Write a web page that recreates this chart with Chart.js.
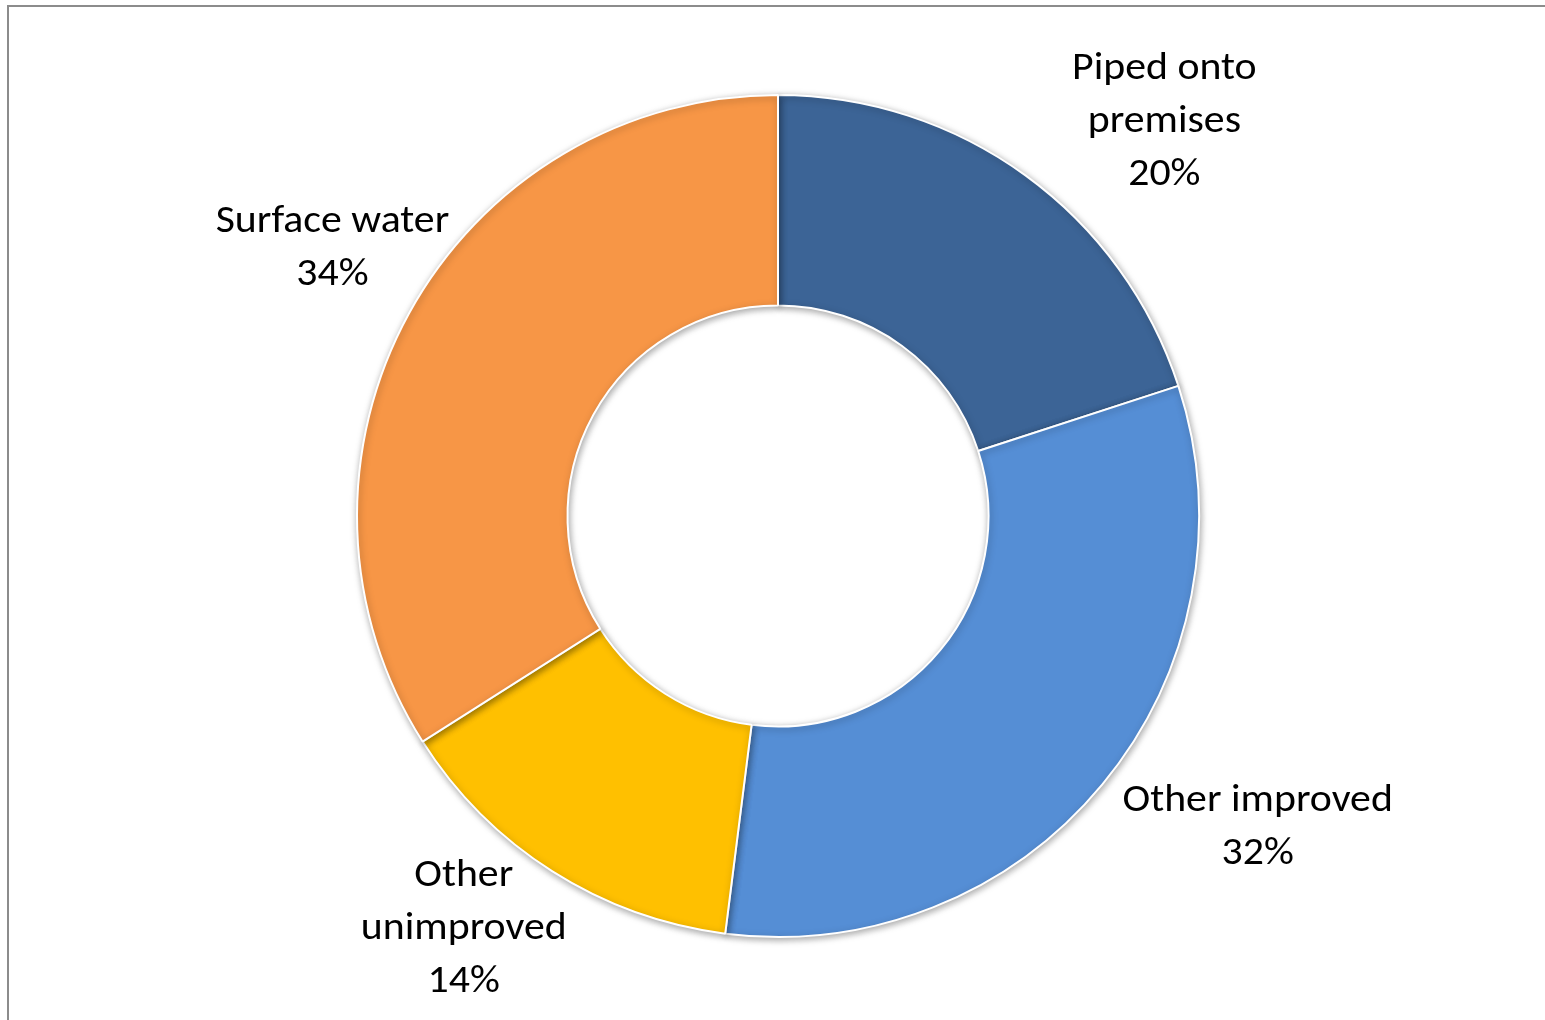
<!DOCTYPE html>
<html>
<head>
<meta charset="utf-8">
<script src="https://cdn.jsdelivr.net/npm/chart.js@4/dist/chart.umd.min.js"></script>
<style>
  html, body { margin: 0; padding: 0; background: #fff; width: 1545px; height: 1020px; overflow: hidden; }
  #frame { position: absolute; left: 7px; top: 5px; width: 1545px; height: 1030px; border-top: 2px solid #8c8c8c; border-left: 2px solid #8c8c8c; }
  #wrap { position: absolute; left: 0; top: 0; width: 1545px; height: 1020px; }
</style>
</head>
<body>
<div id="frame"></div>
<div id="wrap"><canvas id="c" width="1545" height="1020"></canvas></div>
<script>
const categories = ['Piped onto premises', 'Other improved', 'Other unimproved', 'Surface water'];
const categoryLines = [['Piped onto', 'premises'], ['Other improved'], ['Other', 'unimproved'], ['Surface water']];
const shares = [20, 32, 14, 34];
const sliceColors = ['#3C6496', '#558ED5', '#FFC000', '#F79646'];

// label placement style: radius factor and angle nudge (degrees) per slice
const labelRadius = [1.314, 1.357, 1.229, 1.236];
const labelAngleNudge = [8.3, -6.7, 5.0, 2.3];

const FONT = '"Carlito", "Open Sans", "Lato", sans-serif';
const FONT_SIZE = 38;
const TEXT_STRETCH = 1.1;
const LINE_H = 53;
const TEXT_DY = 2;

const shadowPlugin = {
  id: 'shadow',
  beforeDatasetDraw(chart) {
    const ctx = chart.ctx;
    ctx.save();
    ctx.shadowColor = 'rgba(0,0,0,0.35)';
    ctx.shadowBlur = 7;
    ctx.shadowOffsetX = 1;
    ctx.shadowOffsetY = 2;
  },
  afterDatasetDraw(chart) {
    chart.ctx.restore();
  }
};

const labelPlugin = {
  id: 'outLabels',
  afterDatasetsDraw(chart) {
    const ctx = chart.ctx;
    const meta = chart.getDatasetMeta(0);
    const total = shares.reduce((a, b) => a + b, 0);
    ctx.save();
    ctx.fillStyle = '#000';
    ctx.font = FONT_SIZE + 'px ' + FONT;
    ctx.textAlign = 'center';
    ctx.textBaseline = 'middle';
    meta.data.forEach((arc, i) => {
      const p = arc.getProps(['x', 'y', 'startAngle', 'endAngle', 'outerRadius'], true);
      const mid = (p.startAngle + p.endAngle) / 2 + labelAngleNudge[i] * Math.PI / 180;
      const r = p.outerRadius * labelRadius[i];
      const cx = p.x + Math.cos(mid) * r;
      const cy = p.y + Math.sin(mid) * r + TEXT_DY;
      const lines = categoryLines[i].concat([Math.round(shares[i] / total * 100) + '%']);
      const y0 = cy - (lines.length - 1) * LINE_H / 2;
      lines.forEach((t, j) => {
        ctx.save();
        ctx.translate(cx, y0 + j * LINE_H);
        ctx.scale(TEXT_STRETCH, 1);
        ctx.fillText(t, 0, 0);
        ctx.restore();
      });
    });
    ctx.restore();
  }
};

new Chart(document.getElementById('c'), {
  type: 'doughnut',
  data: {
    labels: categories,
    datasets: [{
      data: shares,
      backgroundColor: sliceColors,
      borderColor: '#ffffff',
      borderWidth: 2,
      hoverOffset: 0
    }]
  },
  options: {
    responsive: false,
    animation: false,
    cutout: '50%',
    layout: { padding: { top: 94, bottom: 82, left: 11, right: 0 } },
    plugins: {
      legend: { display: false },
      tooltip: { enabled: false },
      title: { display: false }
    }
  },
  plugins: [shadowPlugin, labelPlugin]
});
</script>
</body>
</html>
